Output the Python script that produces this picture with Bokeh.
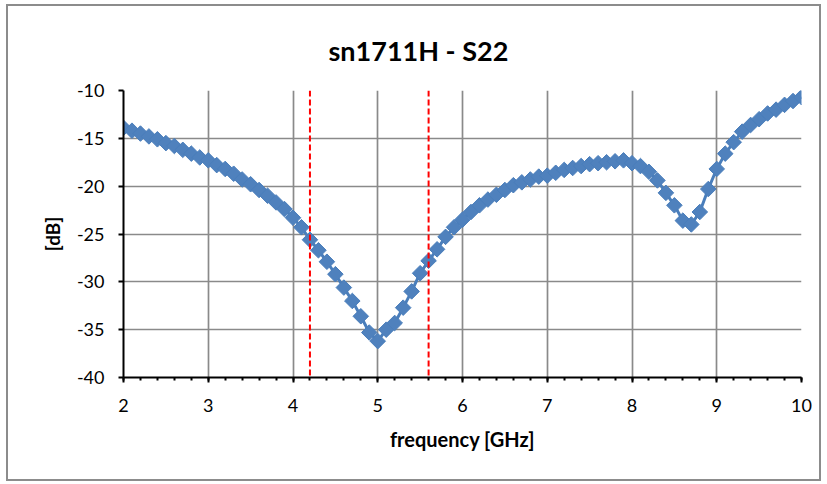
import numpy as np
from bokeh.plotting import figure
from bokeh.models import Range1d, FixedTicker, Span, ColumnDataSource, PrintfTickFormatter
from bokeh.embed import file_html
from bokeh.resources import INLINE

# ---- data ----
freq_ghz = [round(2.0 + 0.1 * i, 1) for i in range(81)]
s22_db = [
    -13.9, -14.2, -14.5, -14.8, -15.1, -15.5, -15.8, -16.2, -16.6, -17.0,
    -17.3, -17.8, -18.2, -18.7, -19.3, -19.8, -20.4, -21.0, -21.7, -22.4,
    -23.3, -24.3, -25.6, -26.7, -27.9, -29.2, -30.6, -32.0, -33.6, -35.3,
    -36.2, -35.0, -34.3, -32.7, -31.0, -29.1, -27.8, -26.6, -25.3, -24.3,
    -23.5, -22.7, -22.0, -21.4, -20.9, -20.4, -19.9, -19.6, -19.3, -19.0,
    -18.9, -18.6, -18.3, -18.1, -17.9, -17.7, -17.6, -17.5, -17.4, -17.3,
    -17.6, -17.9, -18.5, -19.4, -20.7, -22.0, -23.6, -24.0, -22.7, -20.3,
    -18.2, -16.6, -15.4, -14.3, -13.6, -13.0, -12.4, -12.0, -11.5, -11.1,
    -10.7,
]
band_edges_ghz = [4.2, 5.6]
x_ticks = [2, 3, 4, 5, 6, 7, 8, 9, 10]
x_minor_ticks = [round(2 + 0.2 * i, 1) for i in range(41)]
y_ticks = [-40, -35, -30, -25, -20, -15, -10]

FONT = "Lato"
BLUE = "#4F81BD"
GRID = "#8a8a8a"

src = ColumnDataSource(dict(f=freq_ghz, s=s22_db))

p = figure(
    width=815, height=477,
    output_backend="svg", toolbar_location=None,
    x_range=Range1d(2, 10), y_range=Range1d(-40, -10),
    min_border_left=115, min_border_right=22,
    min_border_top=84, min_border_bottom=106,
    title="sn1711H - S22",
)
p.styles = {"border": "2px solid #8c8c8c", "margin-left": "6px", "margin-top": "4px"}
p.outline_line_color = None
p.background_fill_color = "white"
p.border_fill_color = "white"

# title
p.title.text_font = FONT
p.title.text_font_size = "27px"
p.title.text_font_style = "bold"
p.title.text_color = "black"
p.title.align = "left"
p.title.offset = 205
p.title.standoff = 48

# grid
for g in (p.xgrid, p.ygrid):
    g.grid_line_color = GRID
    g.grid_line_width = 1.7
p.xgrid.ticker = FixedTicker(ticks=x_ticks)
p.ygrid.ticker = FixedTicker(ticks=y_ticks)

# axes
xa = p.xaxis[0]
ya = p.yaxis[0]
xa.ticker = FixedTicker(ticks=x_ticks, minor_ticks=x_minor_ticks)
ya.ticker = FixedTicker(ticks=y_ticks)
for ax in (xa, ya):
    ax.formatter = PrintfTickFormatter(format="%d")
    ax.axis_line_color = "black"
    ax.axis_line_width = 2
    ax.major_tick_line_color = "black"
    ax.major_tick_line_width = 2
    ax.major_tick_in = 0
    ax.major_tick_out = 5
    ax.major_label_text_font = FONT
    ax.major_label_text_font_size = "18px"
    ax.major_label_text_color = "black"
    ax.axis_label_text_font = FONT
    ax.axis_label_text_font_style = "bold"
    ax.axis_label_text_color = "black"
xa.minor_tick_line_color = "black"
xa.minor_tick_line_width = 2
xa.minor_tick_in = 0
xa.minor_tick_out = 3
ya.minor_tick_line_color = None
xa.axis_label = "frequency [GHz]"
ya.axis_label = "[dB]"
xa.axis_label_text_font_size = "20px"
ya.axis_label_text_font_size = "19px"
xa.major_label_standoff = 16
xa.axis_label_standoff = 12
ya.major_label_standoff = 14
ya.axis_label_standoff = 10

# data
p.line("f", "s", source=src, line_color="#4A7EBB", line_width=3)
p.scatter("f", "s", source=src, marker="square", angle=np.pi / 4, size=11,
          fill_color=BLUE, line_color="#4A7EBB", line_width=1)

# band edges
for loc in band_edges_ghz:
    p.add_layout(Span(location=loc, dimension="height", line_color="red",
                      line_width=2, line_dash="6 3"))

open("out.html", "w").write(file_html(p, INLINE))
